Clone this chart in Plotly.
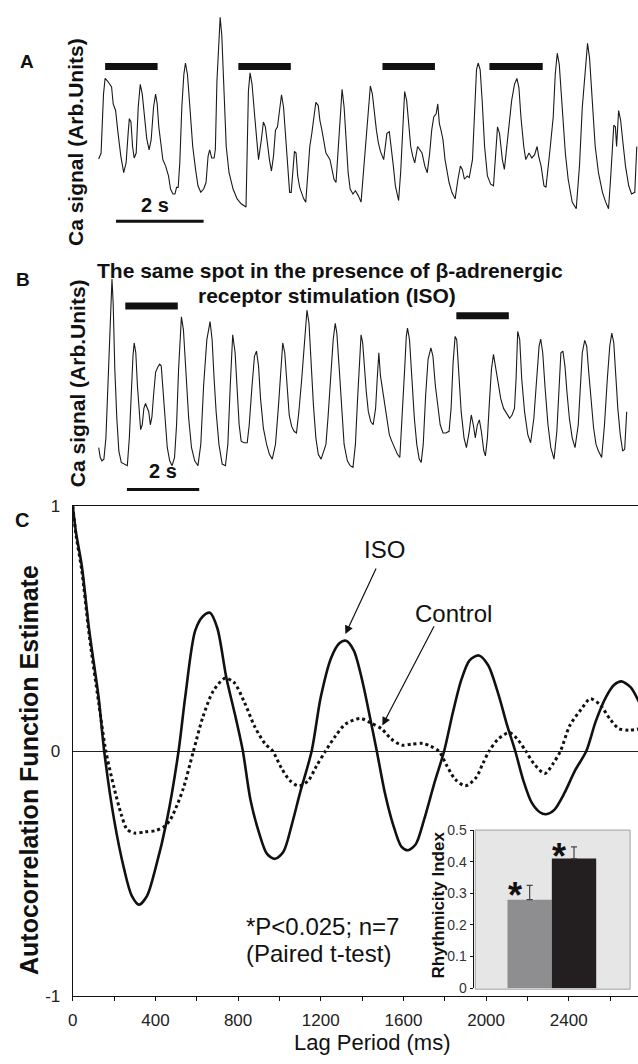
import plotly.graph_objects as go

W, H = 638, 1064
FONT = "Liberation Sans"

# ---------------- Panel A / B : line-scan Ca traces (frame index, signal in arb. units) ----------
A_FRAME_MS = 9.22
B_FRAME_MS = 11.17
A_FRAME0 = 232
B_FRAME0 = 232

a_trace = [
    (232, 242), (238, 260), (244, 440), (248, 488), (254, 480), (259, 472), (264, 462), (268, 410),
    (274, 390), (280, 320), (287, 250), (294, 200), (300, 230), (305, 320), (308, 365), (312, 355),
    (316, 280), (320, 245), (325, 260), (330, 400), (335, 470), (340, 440), (346, 370), (351, 305),
    (357, 270), (362, 300), (368, 400), (373, 440), (377, 410), (381, 340), (386, 290), (391, 240),
    (398, 220), (405, 190), (410, 150), (416, 135), (421, 135), (425, 155), (429, 155), (433, 230),
    (438, 400), (443, 500), (447, 535), (452, 500), (458, 400), (465, 280), (472, 210), (478, 160),
    (485, 140), (492, 150), (498, 170), (503, 250), (507, 270), (512, 245), (518, 245), (521, 270),
    (525, 480), (530, 620), (533, 675), (537, 620), (542, 450), (548, 280), (555, 200), (565, 150),
    (575, 120), (585, 105), (597, 95), (600, 280), (603, 450), (607, 505), (612, 470), (618, 380),
    (622, 320), (628, 240), (635, 300), (640, 355), (645, 340), (650, 280), (655, 240), (660, 205),
    (665, 250), (670, 330), (675, 340), (680, 390), (685, 438), (690, 400), (695, 320), (700, 220),
    (705, 140), (709, 140), (713, 220), (717, 265), (721, 260), (725, 190), (730, 155), (740, 120),
    (745, 110), (750, 200), (755, 280), (760, 320), (765, 370), (770, 415), (776, 405), (780, 360),
    (785, 330), (790, 290), (795, 260), (800, 250), (805, 240), (810, 210), (815, 180), (820, 170),
    (825, 260), (830, 370), (835, 455), (840, 400), (845, 300), (850, 200), (855, 150), (862, 135),
    (868, 145), (875, 130), (882, 110), (888, 200), (895, 330), (900, 400), (905, 465), (910, 440),
    (915, 380), (920, 330), (925, 290), (930, 265), (938, 240), (942, 280), (946, 320), (952, 325),
    (957, 280), (962, 220), (967, 160), (975, 115), (980, 200), (985, 350), (990, 448), (995, 420),
    (1000, 350), (1005, 280), (1010, 250), (1015, 230), (1022, 280), (1028, 270), (1033, 260),
    (1040, 220), (1046, 200), (1052, 260), (1057, 330), (1062, 370), (1068, 380), (1072, 410),
    (1076, 350), (1080, 330), (1085, 300), (1090, 240), (1095, 200), (1100, 170), (1107, 140),
    (1115, 120), (1122, 180), (1128, 220), (1133, 210), (1138, 180), (1145, 190), (1150, 185),
    (1158, 240), (1163, 400), (1168, 515), (1172, 535), (1177, 515), (1182, 420), (1188, 280),
    (1195, 190), (1203, 165), (1210, 160), (1215, 260), (1220, 340), (1225, 320), (1232, 240),
    (1237, 210), (1242, 270), (1248, 350), (1255, 420), (1262, 470), (1268, 488), (1273, 460),
    (1278, 370), (1285, 280), (1290, 240), (1298, 260), (1305, 245), (1312, 255), (1318, 280),
    (1322, 250), (1328, 220), (1335, 160), (1340, 155), (1350, 270), (1358, 370), (1363, 500),
    (1368, 565), (1373, 530), (1380, 400), (1388, 260), (1395, 180), (1405, 110), (1415, 90),
    (1423, 220), (1430, 400), (1437, 520), (1443, 595), (1448, 550), (1455, 400), (1462, 280),
    (1470, 200), (1480, 140), (1488, 110), (1495, 90), (1500, 180), (1505, 280), (1508, 345),
    (1512, 340), (1515, 280), (1520, 390), (1525, 360), (1530, 300), (1537, 220), (1545, 160),
    (1552, 135), (1560, 140), (1565, 280),
]

b_trace = [
    (232, 110), (236, 80), (240, 70), (245, 75), (250, 140), (255, 300), (259, 450), (263, 610),
    (265, 625), (268, 550), (272, 350), (277, 200), (282, 100), (288, 65), (295, 60), (303, 55),
    (308, 140), (313, 300), (317, 390), (320, 430), (324, 400), (328, 300), (332, 220), (336, 165),
    (340, 180), (344, 230), (348, 245), (352, 230), (356, 220), (360, 180), (364, 205), (368, 270),
    (373, 340), (378, 355), (383, 365), (387, 360), (392, 280), (397, 180), (402, 110), (408, 70),
    (414, 55), (420, 80), (425, 180), (430, 350), (434, 470), (437, 510), (442, 470), (448, 350),
    (455, 200), (462, 110), (470, 70), (478, 55), (485, 120), (492, 300), (500, 440), (508, 495),
    (513, 440), (518, 320), (523, 220), (530, 120), (538, 60), (546, 55), (552, 120), (558, 300),
    (564, 455), (570, 400), (575, 280), (580, 180), (585, 130), (592, 125), (600, 125), (605, 180),
    (612, 300), (618, 390), (623, 405), (628, 360), (633, 260), (640, 170), (648, 120), (655, 90),
    (662, 75), (670, 120), (677, 230), (683, 360), (688, 430), (693, 400), (698, 300), (704, 210),
    (710, 175), (716, 160), (722, 155), (728, 220), (735, 320), (742, 450), (748, 530), (753, 490),
    (758, 370), (764, 240), (770, 140), (776, 90), (783, 75), (790, 100), (795, 120), (800, 200),
    (806, 320), (813, 440), (818, 490), (822, 460), (828, 350), (834, 220), (840, 120), (848, 70),
    (855, 55), (862, 50), (868, 120), (873, 250), (878, 390), (882, 455), (886, 430), (890, 350),
    (895, 280), (900, 220), (906, 190), (912, 180), (918, 230), (922, 320), (926, 400), (930, 330),
    (935, 290), (940, 250), (946, 200), (952, 150), (958, 130), (965, 110), (972, 90), (978, 80),
    (984, 200), (990, 350), (994, 450), (997, 475), (1002, 440), (1008, 320), (1014, 200),
    (1020, 120), (1026, 75), (1031, 65), (1036, 120), (1042, 270), (1048, 380), (1055, 415),
    (1060, 390), (1066, 300), (1072, 230), (1078, 180), (1085, 155), (1092, 155), (1100, 160),
    (1105, 230), (1110, 370), (1115, 450), (1119, 440), (1124, 320), (1130, 220), (1137, 140),
    (1143, 110), (1150, 160), (1155, 210), (1160, 180), (1165, 140), (1170, 180), (1175, 195),
    (1180, 160), (1186, 100), (1190, 85), (1195, 140), (1200, 250), (1205, 350), (1210, 395),
    (1215, 360), (1222, 300), (1228, 260), (1235, 230), (1240, 220), (1245, 210), (1250, 200),
    (1256, 210), (1262, 230), (1266, 320), (1270, 465), (1275, 440), (1280, 320), (1287, 220),
    (1295, 150), (1302, 125), (1310, 200), (1317, 320), (1323, 420), (1327, 442), (1332, 400),
    (1338, 290), (1345, 180), (1352, 110), (1360, 75), (1367, 160), (1372, 300), (1377, 400),
    (1382, 405), (1387, 360), (1392, 280), (1398, 200), (1405, 140), (1412, 110), (1420, 180),
    (1425, 300), (1430, 400), (1436, 438), (1441, 420), (1446, 340), (1452, 240), (1458, 170),
    (1464, 120), (1470, 100), (1478, 80), (1485, 180), (1492, 320), (1498, 420), (1503, 460),
    (1508, 430), (1513, 330), (1518, 230), (1524, 150), (1530, 100), (1535, 105), (1540, 220),
]

# highlighted windows (frame ranges) and their signal level
a_windows = [(248, 378), (578, 708), (935, 1065), (1200, 1332)]
a_window_level = [524, 524, 524, 524]
b_windows = [(298, 428), (1118, 1248)]
b_window_level = [543, 513]

# scale bars: start frame, length (ms), signal level
a_scale = (275, 2000, 52)
b_scale = (302, 2000, -18)

# ---------------- Panel C : autocorrelation ----------------
iso_lag = [0, 16, 43, 80, 125, 152, 200, 248, 285, 321, 360, 400, 456, 512, 544, 592, 630, 664,
           700, 743, 790, 823, 860, 900, 940, 979, 1020, 1060, 1100, 1156, 1200, 1250, 1290, 1322,
           1360, 1400, 1440, 1471, 1510, 1550, 1590, 1623, 1660, 1700, 1750, 1797, 1840, 1880,
           1920, 1965, 2010, 2060, 2100, 2141, 2180, 2220, 2260, 2290, 2330, 2380, 2430, 2485,
           2530, 2580, 2620, 2655, 2700, 2740]
iso_acf = [1.0, 0.89, 0.76, 0.49, 0.22, 0.0, -0.28, -0.48, -0.59, -0.627, -0.59, -0.48, -0.28,
           0.0, 0.22, 0.49, 0.55, 0.564, 0.50, 0.30, 0.13, 0.0, -0.20, -0.33, -0.42, -0.44, -0.41,
           -0.30, -0.17, 0.0, 0.22, 0.38, 0.44, 0.45, 0.41, 0.29, 0.13, 0.0, -0.17, -0.30, -0.39,
           -0.405, -0.38, -0.28, -0.13, 0.0, 0.16, 0.29, 0.37, 0.39, 0.35, 0.23, 0.11, 0.0, -0.12,
           -0.21, -0.25, -0.258, -0.24, -0.17, -0.08, 0.0, 0.12, 0.22, 0.27, 0.284, 0.26, 0.20]

ctl_lag = [0, 16, 43, 80, 125, 160, 200, 235, 263, 300, 350, 400, 440, 472, 505, 536, 584, 630,
           680, 736, 780, 830, 880, 930, 967, 1010, 1050, 1095, 1140, 1180, 1223, 1270, 1320, 1391,
           1440, 1495, 1540, 1591, 1640, 1693, 1730, 1771, 1810, 1850, 1900, 1950, 1985, 2015,
           2060, 2113, 2150, 2192, 2230, 2284, 2325, 2360, 2405, 2460, 2504, 2550, 2600, 2641,
           2690, 2740]
ctl_acf = [1.0, 0.88, 0.74, 0.47, 0.20, 0.0, -0.15, -0.26, -0.32, -0.335, -0.33, -0.325, -0.31,
           -0.28, -0.22, -0.15, 0.0, 0.14, 0.245, 0.297, 0.28, 0.20, 0.10, 0.03, 0.0, -0.07, -0.12,
           -0.143, -0.12, -0.06, 0.0, 0.06, 0.11, 0.133, 0.115, 0.09, 0.05, 0.024, 0.028, 0.031,
           0.02, 0.0, -0.06, -0.115, -0.142, -0.11, -0.05, 0.0, 0.05, 0.075, 0.05, 0.0, -0.05,
           -0.092, -0.05, 0.0, 0.104, 0.17, 0.213, 0.19, 0.13, 0.092, 0.085, 0.09]

lag_ticks = list(range(0, 2801, 200))
lag_ticktext = [str(v) if v % 400 == 0 else "" for v in lag_ticks]
acf_ticks = [-1, 0, 1]
acf_ticktext = ["-1", "0", "1"]

# ---------------- Inset : Rhythmicity index ----------------
ri_group = ["Control", "ISO"]
ri_mean = [0.28, 0.41]
ri_err = [0.045, 0.037]
ri_colors = ["#8e8e90", "#231f20"]
ri_ticks = [0, 0.1, 0.2, 0.3, 0.4, 0.5]
ri_ticktext = ["0", "0.1", "0.2", "0.3", "0.4", "0.5"]


def pxx(x):
    return x / W


def pyy(y):
    return 1 - y / H


def to_ms(frames, f0, ms):
    return [(f - f0) * ms for f in frames]


fig = go.Figure()

a_t = to_ms([p[0] for p in a_trace], A_FRAME0, A_FRAME_MS)
a_s = [p[1] for p in a_trace]
b_t = to_ms([p[0] for p in b_trace], B_FRAME0, B_FRAME_MS)
b_s = [p[1] for p in b_trace]

fig.add_trace(go.Scatter(x=a_t, y=a_s, xaxis="x", yaxis="y", mode="lines",
                         line=dict(color="#1a1a1a", width=1.1), showlegend=False, hoverinfo="skip"))
fig.add_trace(go.Scatter(x=b_t, y=b_s, xaxis="x2", yaxis="y2", mode="lines",
                         line=dict(color="#1a1a1a", width=1.1), showlegend=False, hoverinfo="skip"))

fig.add_trace(go.Scatter(x=ctl_lag, y=ctl_acf, xaxis="x3", yaxis="y3", mode="lines",
                         line=dict(color="#111111", width=3, dash="3px,3px", shape="spline", smoothing=0.8),
                         showlegend=False, name="Control"))
fig.add_trace(go.Scatter(x=iso_lag, y=iso_acf, xaxis="x3", yaxis="y3", mode="lines",
                         line=dict(color="#111111", width=2.6, shape="spline", smoothing=0.8),
                         showlegend=False, name="ISO"))

fig.add_trace(go.Bar(x=[0, 1], y=ri_mean, width=[1, 1], xaxis="x4", yaxis="y4",
                     marker=dict(color=ri_colors, line=dict(width=0)),
                     error_y=dict(type="data", array=ri_err, arrayminus=[0, 0], symmetric=False,
                                  color="#444444", thickness=1.2, width=3),
                     showlegend=False, hovertext=ri_group))

shapes = []
for (f0, f1), lv in zip(a_windows, a_window_level):
    t0, t1 = to_ms([f0, f1], A_FRAME0, A_FRAME_MS)
    shapes.append(dict(type="line", xref="x", yref="y", x0=t0, x1=t1, y0=lv, y1=lv,
                       line=dict(color="#111111", width=7)))
for (f0, f1), lv in zip(b_windows, b_window_level):
    t0, t1 = to_ms([f0, f1], B_FRAME0, B_FRAME_MS)
    shapes.append(dict(type="line", xref="x2", yref="y2", x0=t0, x1=t1, y0=lv, y1=lv,
                       line=dict(color="#111111", width=7)))

a_s0 = (a_scale[0] - A_FRAME0) * A_FRAME_MS
b_s0 = (b_scale[0] - B_FRAME0) * B_FRAME_MS
shapes.append(dict(type="line", xref="x", yref="y", x0=a_s0, x1=a_s0 + a_scale[1],
                   y0=a_scale[2], y1=a_scale[2], line=dict(color="#111111", width=3)))
shapes.append(dict(type="line", xref="x2", yref="y2", x0=b_s0, x1=b_s0 + b_scale[1],
                   y0=b_scale[2], y1=b_scale[2], line=dict(color="#111111", width=3)))

# inset background
shapes.append(dict(type="rect", xref="paper", yref="paper", x0=pxx(474), x1=pxx(630),
                   y0=pyy(998), y1=pyy(836), fillcolor="#e6e6e6",
                   line=dict(color="#a0a0a0", width=1), layer="below"))

ann = []


def txt(text, x, y, size, bold=False, xref="paper", yref="paper", angle=0, xanchor="center",
        yanchor="middle", color="#111111", yshift=0):
    ann.append(dict(text=("<b>%s</b>" % text) if bold else text, x=x, y=y, xref=xref, yref=yref,
                    showarrow=False, textangle=angle, xanchor=xanchor, yanchor=yanchor,
                    yshift=yshift, font=dict(family=FONT, size=size, color=color)))


txt("A", pxx(22.4), pyy(53.3), 19, True)
txt("B", pxx(18.3), pyy(275), 19, True)
txt("C", pxx(16.7), pyy(520), 20, True)
txt("Ca signal (Arb.Units)", pxx(71), pyy(135), 21, True, angle=-90)
txt("Ca signal (Arb.Units)", pxx(73), pyy(380.5), 21, True, angle=-90)
txt("The same spot in the presence of β-adrenergic", pxx(327.5), pyy(266.7), 21, True)
txt("receptor stimulation (ISO)", pxx(325), pyy(291.7), 21, True)
txt("2 s", a_s0 + a_scale[1] / 2 - 120, 102, 20, True, xref="x", yref="y")
txt("2 s", b_s0 + b_scale[1] / 2, 40, 20, True, xref="x2", yref="y2")

txt("Autocorrelation Function Estimate", pxx(24), pyy(775), 25, True, angle=-90)
txt("Lag Period (ms)", pxx(370.5), pyy(1052), 22)
txt("ISO", 1509, 0.824, 24, xref="x3", yref="y3")
txt("Control", 1842, 0.56, 24, xref="x3", yref="y3")
txt("*P&lt;0.025; n=7", 828, -0.716, 24, xref="x3", yref="y3", xanchor="left")
txt("(Paired t-test)", 828, -0.828, 24, xref="x3", yref="y3", xanchor="left")
txt("Rhythmicity Index", pxx(437.3), pyy(912), 17, True, angle=-90)
txt("*", -0.33, 0.327, 36, True, xref="x4", yref="y4", yshift=-11)
txt("*", 0.66, 0.446, 36, True, xref="x4", yref="y4", yshift=-9)

for tip, tail in [((1319, 0.477), (1471, 0.751)), ((1498, 0.104), (1752, 0.515))]:
    ann.append(dict(x=tip[0], y=tip[1], ax=tail[0], ay=tail[1], xref="x3", yref="y3",
                    axref="x3", ayref="y3", showarrow=True, text="", arrowhead=2,
                    arrowsize=1.4, arrowwidth=1.2, arrowcolor="#111111"))

hidden = dict(visible=False, showgrid=False, zeroline=False)

fig.update_layout(
    width=W, height=H, autosize=False,
    margin=dict(l=0, r=0, t=0, b=0),
    paper_bgcolor="white", plot_bgcolor="rgba(0,0,0,0)",
    font=dict(family=FONT, color="#111111"),
    showlegend=False,
    xaxis=dict(domain=[0, 1], range=[(0 - A_FRAME0) * A_FRAME_MS, (1568 - A_FRAME0) * A_FRAME_MS],
               anchor="y", **hidden),
    yaxis=dict(domain=[pyy(250), 1], range=[-50, 700], anchor="x", **hidden),
    xaxis2=dict(domain=[0, 1], range=[(0 - B_FRAME0) * B_FRAME_MS, (1568 - B_FRAME0) * B_FRAME_MS],
                anchor="y2", **hidden),
    yaxis2=dict(domain=[pyy(500), pyy(250)], range=[-50, 700], anchor="x2", **hidden),
    xaxis3=dict(domain=[pxx(68.3), 1], range=[0, 2735], anchor="y3",
                tickvals=lag_ticks, ticktext=lag_ticktext, ticks="outside", ticklen=4,
                tickcolor="#111111", showline=True, linecolor="#111111", linewidth=1.2,
                mirror=True, showgrid=False, zeroline=False, ticklabelstandoff=4,
                tickfont=dict(family=FONT, size=17, color="#222222")),
    yaxis3=dict(domain=[pyy(1005), pyy(506)], range=[-1, 1], anchor="x3",
                tickvals=acf_ticks, ticktext=acf_ticktext, ticks="", showline=True,
                linecolor="#111111", linewidth=1.2, showgrid=False, zeroline=True,
                zerolinecolor="#222222", zerolinewidth=1, ticklabelstandoff=8,
                tickfont=dict(family=FONT, size=17, color="#222222")),
    xaxis4=dict(domain=[pxx(472.3), pxx(629.3)], range=[-1.264, 2.248], anchor="y4", **hidden),
    yaxis4=dict(domain=[pyy(997), pyy(836)], range=[0, 0.5], anchor="x4",
                tickvals=ri_ticks, ticktext=ri_ticktext, ticks="outside", ticklen=3,
                tickcolor="#111111", showline=True, linecolor="#111111", linewidth=1,
                showgrid=False, zeroline=False,
                tickfont=dict(family=FONT, size=14, color="#333333")),
    shapes=shapes,
    annotations=ann,
)

fig.write_html("out.html")
